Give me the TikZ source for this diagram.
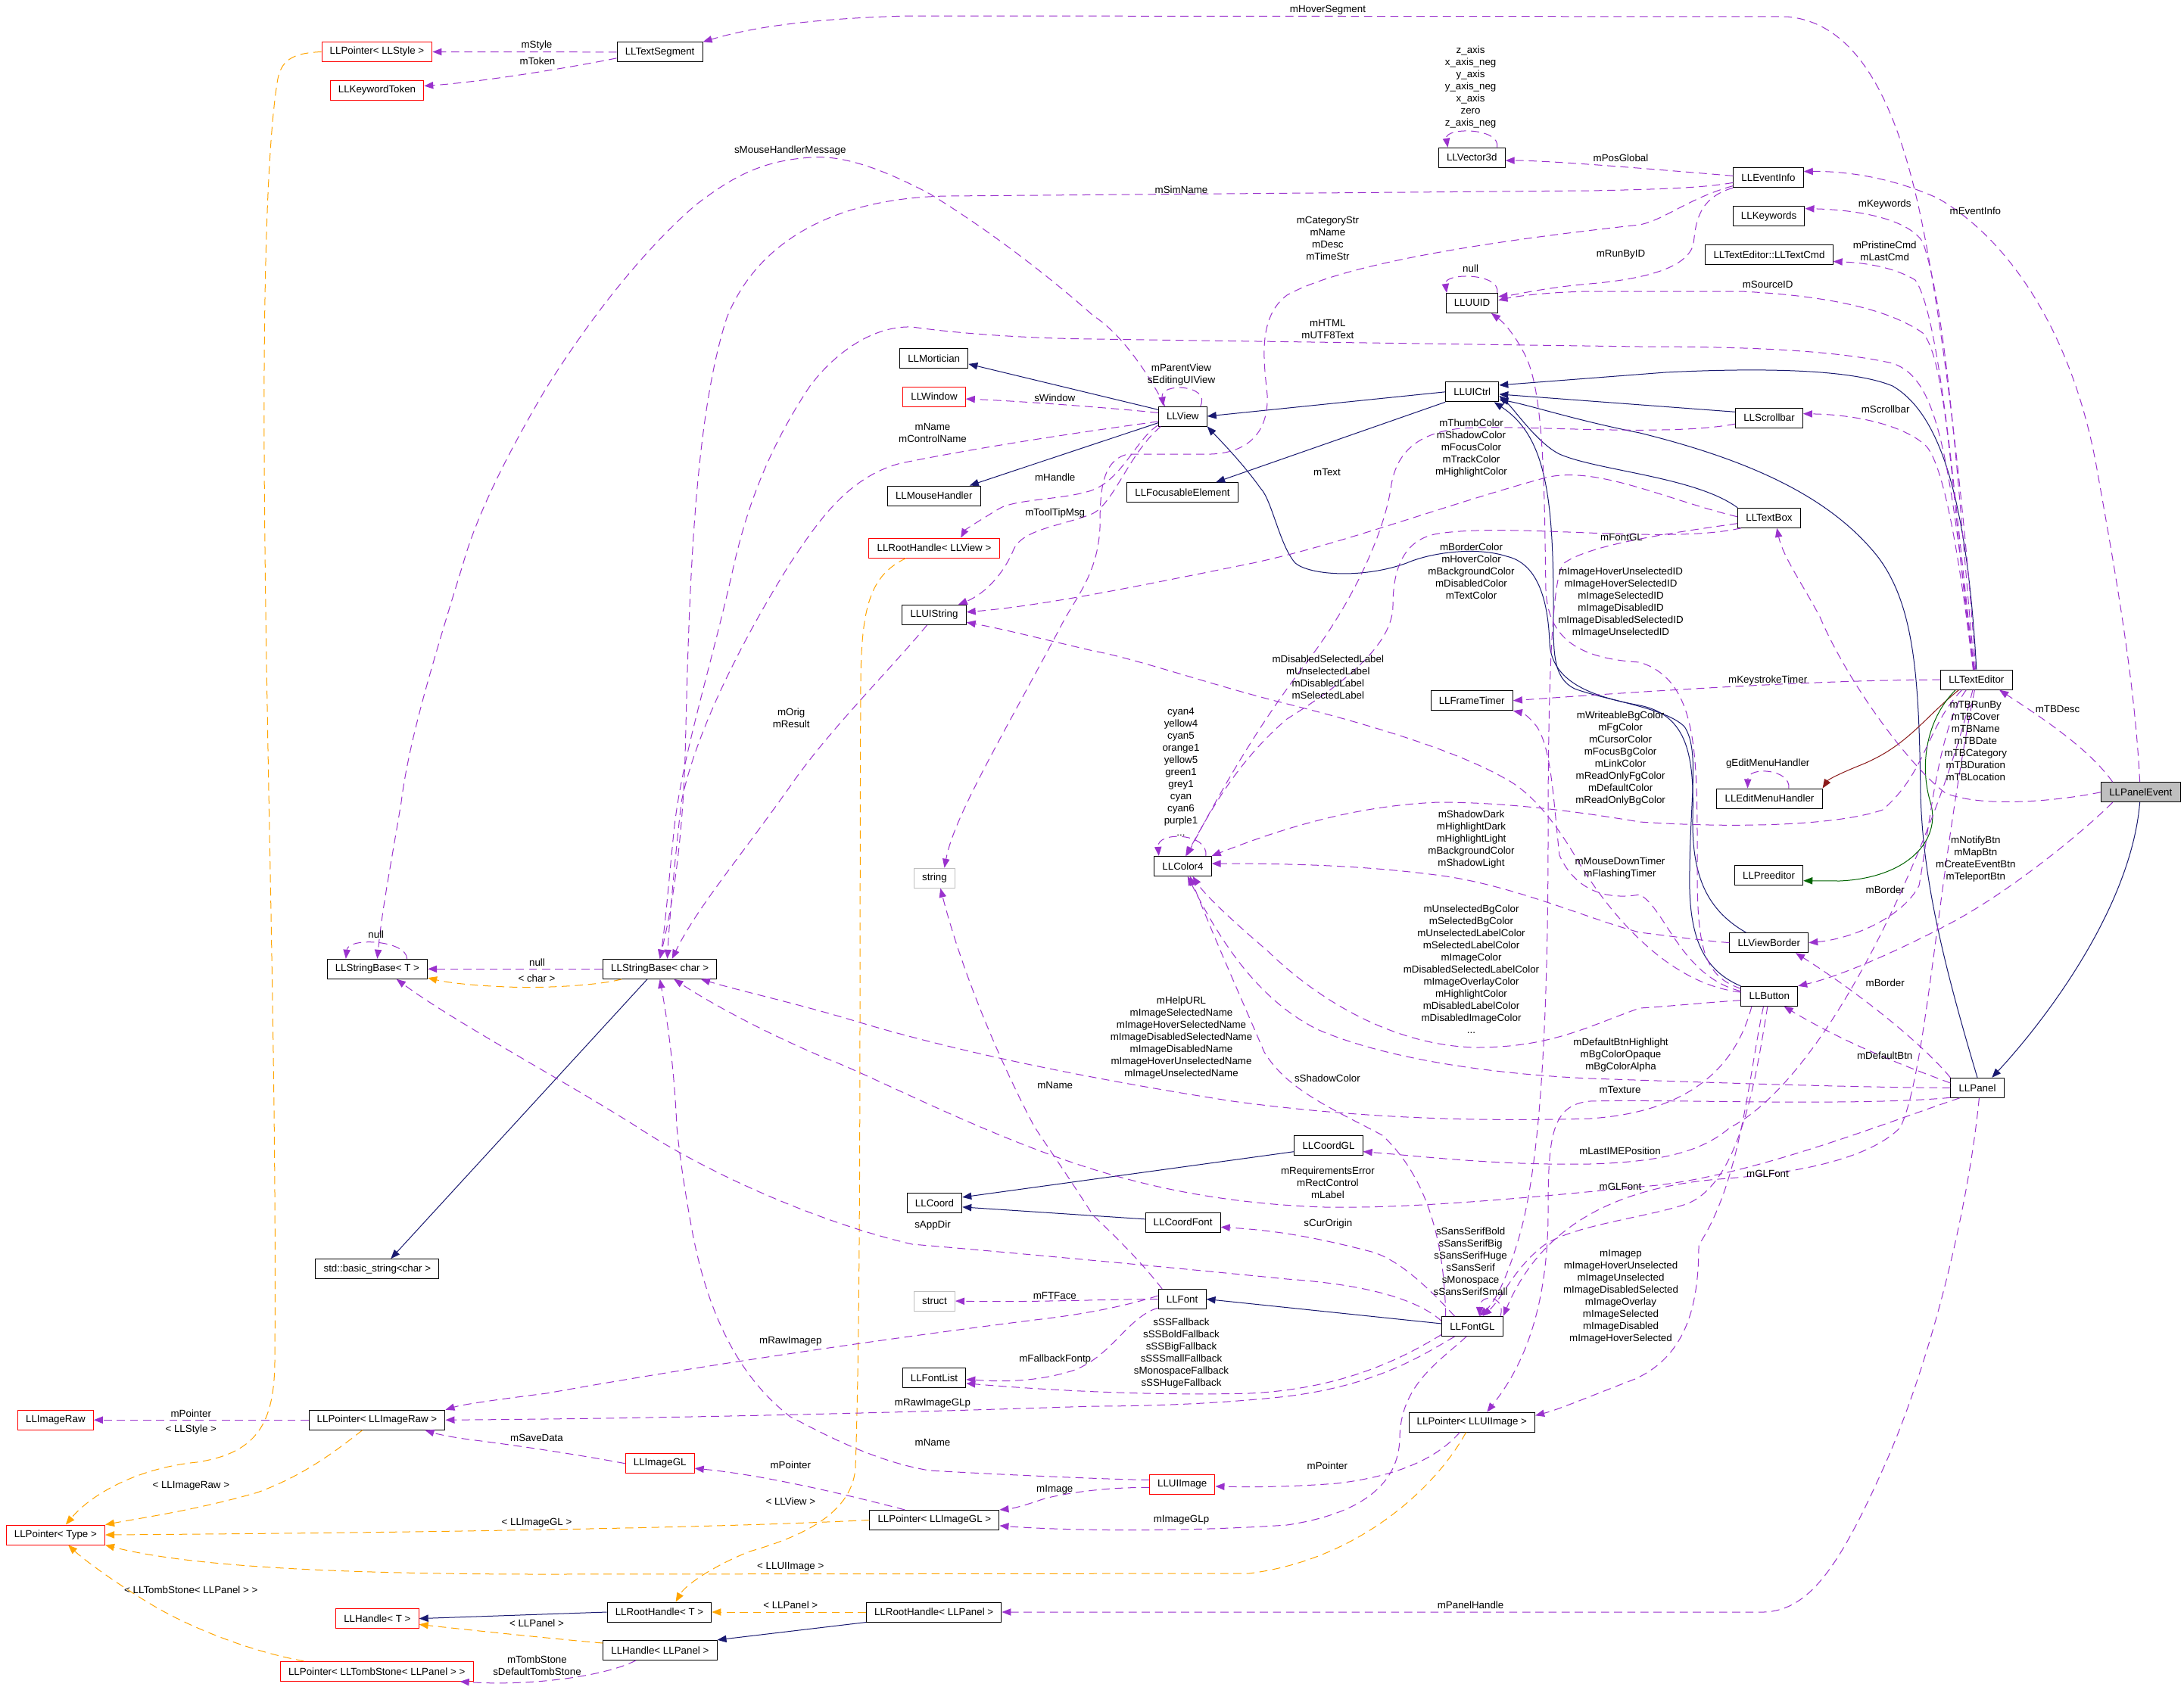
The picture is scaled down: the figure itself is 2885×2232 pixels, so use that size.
\documentclass[tikz,border=0pt]{standalone}
\usepackage{fontspec}
\setmainfont{Liberation Sans}
\usetikzlibrary{arrows.meta}
\definecolor{usecol}{RGB}{154,50,205}
\definecolor{tplcol}{RGB}{255,165,0}
\definecolor{inhcol}{RGB}{25,25,112}
\definecolor{protcol}{RGB}{139,26,26}
\definecolor{privcol}{RGB}{0,100,0}
\definecolor{undoccol}{RGB}{255,0,0}
\definecolor{extcol}{RGB}{191,191,191}
\newcommand\lbfont{\fontsize{10}{12}\selectfont}
\tikzset{
  cls/.style={rectangle,draw=black,line width=0.75pt,fill=white,minimum height=19.5pt,inner xsep=8pt,inner ysep=2pt,font=\lbfont},
  rcls/.style={cls,draw=undoccol},
  gcls/.style={cls,draw=extcol},
  hcls/.style={cls,fill=extcol},
  lb/.style={font=\lbfont,align=center,inner sep=0pt},
  tip/.style={-{Triangle[length=9pt,width=7pt]}},
  ue/.style={tip,draw=usecol,fill=none,line width=0.75pt,dash pattern=on 8pt off 5pt},
  te/.style={ue,draw=tplcol},
  ie/.style={tip,draw=inhcol,line width=0.75pt},
  pe/.style={ie,draw=protcol},
  ve/.style={ie,draw=privcol}
}

\begin{document}
\begin{tikzpicture}[x=0.75pt,y=-0.75pt]
  \fill[white] (0,0) rectangle (2885,2232);
  \useasboundingbox (0,0) rectangle (2885,2232);

  % classes
  \node[rcls] (ptrstyle) at (498,68.5) {LLPointer< LLStyle >};
  \node[rcls] (kwtoken) at (498,119) {LLKeywordToken};
  \node[cls] (textseg) at (871.6,68.8) {LLTextSegment};
  \node[cls] (vec3d) at (1944.3,208.2) {LLVector3d};
  \node[cls] (eventinfo) at (2336,234.8) {LLEventInfo};
  \node[cls] (keywords) at (2336.6,285.8) {LLKeywords};
  \node[cls] (textcmd) at (2337,336.6) {LLTextEditor::LLTextCmd};
  \node[cls] (uuid) at (1944.5,400.4) {LLUUID};
  \node[cls] (mortician) at (1233.7,473.7) {LLMortician};
  \node[rcls] (window) at (1234,524.2) {LLWindow};
  \node[cls] (view) at (1562.3,550) {LLView};
  \node[cls] (uictrl) at (1944.7,517.8) {LLUICtrl};
  \node[cls] (scrollbar) at (2337,552.2) {LLScrollbar};
  \node[cls] (mousehandler) at (1233.8,655) {LLMouseHandler};
  \node[cls] (focusable) at (1562,650.6) {LLFocusableElement};
  \node[cls] (textbox) at (2337,684.3) {LLTextBox};
  \node[rcls] (roothview) at (1234,724) {LLRootHandle< LLView >};
  \node[cls] (uistring) at (1234,812.5) {LLUIString};
  \node[cls] (texteditor) at (2610.8,898.2) {LLTextEditor};
  \node[cls] (frametimer) at (1944.2,925.7) {LLFrameTimer};
  \node[cls] (editmenu) at (2337.5,1055) {LLEditMenuHandler};
  \node[hcls] (panelevent) at (2827.8,1046.7) {LLPanelEvent};
  \node[cls] (preeditor) at (2336.6,1156.5) {LLPreeditor};
  \node[cls] (color4) at (1562.5,1144.4) {LLColor4};
  \node[gcls] (string) at (1234.5,1160.2) {string};
  \node[cls] (viewborder) at (2336.8,1245.6) {LLViewBorder};
  \node[cls] (strbaseT) at (498.4,1280.3) {LLStringBase< T >};
  \node[cls] (strbasechar) at (871.7,1280.3) {LLStringBase< char >};
  \node[cls] (button) at (2337.3,1316.3) {LLButton};
  \node[cls] (panel) at (2612,1437.3) {LLPanel};
  \node[cls] (coordgl) at (1755,1513.6) {LLCoordGL};
  \node[cls] (coord) at (1234.5,1589.7) {LLCoord};
  \node[cls] (coordfont) at (1562.6,1615.2) {LLCoordFont};
  \node[cls] (basicstr) at (498.4,1676.6) {std::basic\_string<char >};
  \node[cls] (font) at (1561.6,1716.5) {LLFont};
  \node[gcls] (struct) at (1234.5,1719) {struct};
  \node[cls] (fontgl) at (1944.9,1752.5) {LLFontGL};
  \node[cls] (fontlist) at (1234,1820.4) {LLFontList};
  \node[rcls] (imageraw) at (73.4,1876.2) {LLImageRaw};
  \node[cls] (ptrimageraw) at (498,1876.2) {LLPointer< LLImageRaw >};
  \node[cls] (ptruiimage) at (1944.3,1879.1) {LLPointer< LLUIImage >};
  \node[rcls] (imagegl) at (871.7,1933.7) {LLImageGL};
  \node[rcls] (uiimage) at (1561.7,1961.6) {LLUIImage};
  \node[cls] (ptrimagegl) at (1234.4,2008.4) {LLPointer< LLImageGL >};
  \node[rcls] (ptrtype) at (73.4,2028) {LLPointer< Type >};
  \node[cls] (roothT) at (871,2130) {LLRootHandle< T >};
  \node[cls] (roothpanel) at (1233.7,2130) {LLRootHandle< LLPanel >};
  \node[rcls] (handleT) at (498.4,2138.6) {LLHandle< T >};
  \node[cls] (handlepanel) at (871.9,2180.3) {LLHandle< LLPanel >};
  \node[rcls] (ptrtomb) at (497.7,2208.3) {LLPointer< LLTombStone< LLPanel > >};

  % inheritance
  \draw[ie] (view.165) -- (mortician.-9);
  \draw[ie] (view.195) -- (mousehandler.16);
  \draw[ie] (uictrl.west) -- (view.east);
  \draw[ie] (uictrl.south west) -- (focusable.17);
  \draw[ie] (scrollbar.170) -- (uictrl.-5);
  \draw[ie] (texteditor.north) .. controls (2598,650) and (2560,545) .. (2500,510) .. controls (2440,485) and (2300,487) .. (2200,492) -- (uictrl.14);
  \draw[ie] (textbox.north west) .. controls (2240,630) and (2110,622) .. (2060,600) .. controls (2030,585) and (2000,540) .. (uictrl.-8);
  \draw[ie] (panel.north) .. controls (2560,1250) and (2540,1150) .. (2537,1050) .. controls (2535,900) and (2530,800) .. (2480,735) .. controls (2420,660) and (2320,610) .. (2166,572) .. controls (2080,555) and (2020,535) .. (uictrl.-16);
  \draw[ie] (button.north west) .. controls (2245,1280) and (2230,1230) .. (2232,1150) .. controls (2233,1050) and (2245,990) .. (2225,960) .. controls (2200,935) and (2120,925) .. (2080,910) .. controls (2050,895) and (2052,860) .. (2052,800) .. controls (2052,650) and (2040,575) .. (uictrl.-25);
  \draw[ie] (viewborder.156) .. controls (2250,1200) and (2235,1150) .. (2236,1080) .. controls (2238,1000) and (2230,945) .. (2166,932) .. controls (2100,920) and (2050,900) .. (2047,850) .. controls (2045,790) and (2030,744) .. (1990,735) .. controls (1950,722) and (1890,730) .. (1858,744) .. controls (1800,765) and (1730,760) .. (1711,744) .. controls (1690,720) and (1680,660) .. (1665,645) .. controls (1640,610) and (1610,580) .. (view.south east);
  \draw[ie] (panelevent.-95) .. controls (2815,1200) and (2700,1350) .. (panel.35);
  \draw[ie] (fontgl.175) -- (font.east);
  \draw[ie] (coordgl.190) -- (coord.12);
  \draw[ie] (coordfont.175) -- (coord.-8);
  \draw[ie] (roothpanel.south west) -- (handlepanel.north east);
  \draw[ie] (roothT.west) -- (handleT.east);
  \draw[ie] (strbasechar.219) -- (basicstr.37);
  \draw[pe] (texteditor.210) .. controls (2540,950) and (2520,985) .. (2460,1010) .. controls (2430,1022) and (2415,1030) .. (editmenu.north east);
  \draw[ve] (texteditor.206) .. controls (2545,950) and (2535,1010) .. (2550,1060) .. controls (2565,1110) and (2520,1160) .. (2430,1164) -- (preeditor.-9);

  % template instances
  \draw[te] (ptrstyle.west) .. controls (385,70) and (370,80) .. (366,110) .. controls (352,200) and (348,400) .. (349,600) .. controls (351,1000) and (366,1400) .. (363,1800) .. controls (362,1880) and (340,1920) .. (260,1932) .. controls (180,1940) and (120,1975) .. (ptrtype.45);
  \draw[te] (ptrimageraw.215) .. controls (440,1920) and (400,1950) .. (340,1972) .. controls (260,1995) and (190,2005) .. (ptrtype.north east);
  \draw[te] (ptrimagegl.west) .. controls (1000,2016) and (700,2024) .. (ptrtype.east);
  \draw[te] (ptruiimage.-120) .. controls (1900,1960) and (1800,2060) .. (1650,2079) -- (722,2080) .. controls (450,2080) and (250,2070) .. (ptrtype.south east);
  \draw[te] (ptrtomb.172) .. controls (330,2182) and (250,2150) .. (200,2120) .. controls (150,2090) and (110,2060) .. (ptrtype.-39);
  \draw[te] (strbasechar.195) .. controls (790,1302) and (720,1306) .. (670,1304) .. controls (620,1302) and (590,1298) .. (strbaseT.-10);
  \draw[te] (roothview.200) .. controls (1150,760) and (1138,800) .. (1137,900) .. controls (1135,1300) and (1138,1700) .. (1130,1940) .. controls (1125,2000) and (1060,2030) .. (990,2050) .. controls (940,2070) and (905,2095) .. (roothT.32);
  \draw[te] (roothpanel.west) -- (roothT.east);
  \draw[te] (handlepanel.173) .. controls (760,2168) and (650,2157) .. (handleT.-8);

  % members
  \draw[ue] (textseg.west) -- (ptrstyle.east);
  \draw[ue] (textseg.188) .. controls (760,88) and (640,108) .. (kwtoken.5);
  \draw[ue] (texteditor.95) .. controls (2598,700) and (2570,450) .. (2540,300) .. controls (2510,150) and (2460,30) .. (2360,22) -- (1200,21) .. controls (1050,25) and (980,40) .. (textseg.north east);
  \draw[ue] (vec3d.22) .. controls (1982,168) and (1908,168) .. (vec3d.157);
  \draw[ue] (eventinfo.177) .. controls (2200,225) and (2050,212) .. (vec3d.-5);
  \draw[ue] (panelevent.95) .. controls (2820,900) and (2795,760) .. (2770,620) .. controls (2740,450) and (2660,320) .. (2560,262) .. controls (2500,235) and (2440,226) .. (eventinfo.10);
  \draw[ue] (texteditor.100) .. controls (2590,700) and (2575,420) .. (2540,320) .. controls (2520,288) and (2450,277) .. (keywords.12);
  \draw[ue] (texteditor.102) .. controls (2585,700) and (2565,420) .. (2530,370) .. controls (2500,352) and (2460,347) .. (textcmd.-6);
  \draw[ue] (eventinfo.188) .. controls (2250,248) and (2200,250) .. (2100,252) -- (1250,259) .. controls (1100,262) and (1000,320) .. (960,420) .. controls (915,560) and (910,800) .. (905,1000) .. controls (900,1150) and (880,1230) .. (strbasechar.north);
  \draw[ue] (eventinfo.193) .. controls (2230,262) and (2200,290) .. (2166,297) .. controls (2000,315) and (1780,345) .. (1700,390) .. controls (1660,420) and (1670,480) .. (1674,522) .. controls (1676,570) and (1650,598) .. (1600,600) -- (1490,600) .. controls (1455,608) and (1453,650) .. (1453,697) .. controls (1450,760) and (1420,790) .. (1400,830) .. controls (1320,980) and (1260,1080) .. (string.46);
  \draw[ue] (uuid.22) .. controls (1982,360) and (1907,360) .. (uuid.158);
  \draw[ue] (eventinfo.196) .. controls (2240,262) and (2240,300) .. (2237,322) .. controls (2230,352) and (2180,368) .. (2100,375) .. controls (2040,380) and (2000,390) .. (uuid.14);
  \draw[ue] (texteditor.104) .. controls (2580,700) and (2575,480) .. (2540,440) .. controls (2490,405) and (2400,390) .. (2300,385) -- (2100,385) .. controls (2040,386) and (2000,392) .. (uuid.6);
  \draw[ue] (view.150) .. controls (1515,490) and (1480,440) .. (1444,417) .. controls (1380,360) and (1300,300) .. (1228,256) .. controls (1160,220) and (1110,205) .. (1072,208) .. controls (1000,212) and (960,240) .. (920,270) .. controls (850,330) and (780,420) .. (722,512) .. controls (670,600) and (630,680) .. (612,744) .. controls (570,880) and (540,980) .. (530,1060) .. controls (515,1150) and (505,1200) .. (strbaseT.north);
  \draw[ue] (texteditor.106) .. controls (2575,600) and (2560,500) .. (2500,480) .. controls (2420,462) and (2300,458) .. (2166,458) -- (1444,448) .. controls (1350,447) and (1260,440) .. (1205,432) .. controls (1150,430) and (1100,470) .. (1070,510) .. controls (1010,600) and (985,680) .. (970,744) .. controls (940,880) and (900,1000) .. (890,1100) .. controls (882,1180) and (878,1230) .. (strbasechar.north);
  \draw[ue] (view.30) .. controls (1600,508) and (1532,505) .. (view.152);
  \draw[ue] (view.172) .. controls (1480,540) and (1350,530) .. (window.-4);
  \draw[ue] (view.192) .. controls (1420,572) and (1300,590) .. (1190,612) .. controls (1120,630) and (1080,690) .. (1044,744) .. controls (990,830) and (920,960) .. (900,1060) .. controls (890,1150) and (884,1220) .. (strbasechar.54);
  \draw[ue] (view.200) .. controls (1500,580) and (1480,640) .. (1435,650) .. controls (1400,660) and (1340,660) .. (1320,672) .. controls (1290,690) and (1275,700) .. (roothview.21);
  \draw[ue] (view.205) .. controls (1490,600) and (1470,670) .. (1440,680) .. controls (1400,695) and (1350,700) .. (1339,726) .. controls (1325,760) and (1300,785) .. (uistring.23);
  \draw[ue] (scrollbar.-170) .. controls (2200,578) and (2000,560) .. (1930,566) .. controls (1870,572) and (1845,600) .. (1838,640) .. controls (1830,700) and (1790,790) .. (1730,870) .. controls (1660,960) and (1610,1050) .. (color4.70);
  \draw[ue] (textbox.178) .. controls (2200,660) and (2110,615) .. (2042,631) .. controls (1900,670) and (1770,720) .. (1650,745) .. controls (1500,775) and (1380,800) .. (uistring.5);
  \draw[ue] (textbox.190) .. controls (2200,705) and (2100,720) .. (2066,744) .. controls (2050,760) and (2045,900) .. (2045,1100) .. controls (2045,1400) and (2030,1560) .. (2005,1640) .. controls (1990,1690) and (1975,1720) .. (fontgl.55);
  \draw[ue] (textbox.200) .. controls (2200,720) and (2000,690) .. (1900,705) .. controls (1855,712) and (1840,750) .. (1840,800) .. controls (1840,850) and (1780,900) .. (1700,950) .. controls (1630,1010) and (1595,1080) .. (color4.75);
  \draw[ue] (button.172) .. controls (2200,1300) and (2120,1200) .. (2080,1130) .. controls (2050,1080) and (2020,1045) .. (1987,1028) .. controls (1920,990) and (1800,955) .. (1700,930) .. controls (1600,905) and (1500,870) .. (1444,860) .. controls (1380,845) and (1320,830) .. (uistring.-13);
  \draw[ue] (color4.24) .. controls (1597,1100) and (1528,1098) .. (color4.157);
  \draw[ue] (texteditor.215) .. controls (2545,960) and (2545,1020) .. (2487,1070) .. controls (2430,1090) and (2300,1095) .. (2166,1086) .. controls (2100,1075) and (2000,1060) .. (1900,1060) .. controls (1780,1065) and (1680,1100) .. (color4.north east);
  \draw[ue] (viewborder.west) .. controls (2250,1243) and (2200,1236) .. (2166,1232) .. controls (2100,1215) and (2000,1170) .. (1904,1157) .. controls (1800,1143) and (1700,1141) .. (color4.5);
  \draw[ue] (button.188) .. controls (2250,1325) and (2200,1330) .. (2166,1332) .. controls (2100,1355) and (2050,1384) .. (1950,1384) .. controls (1850,1382) and (1750,1330) .. (1674,1256) .. controls (1620,1210) and (1590,1180) .. (color4.-46);
  \draw[ue] (button.-150) .. controls (2290,1420) and (2220,1470) .. (2100,1478) .. controls (1950,1482) and (1800,1478) .. (1628,1455) .. controls (1500,1435) and (1300,1400) .. (1136,1351) .. controls (1050,1325) and (980,1310) .. (strbasechar.-14);
  \draw[ue] (fontgl.159) .. controls (1908,1650) and (1890,1560) .. (1826,1500) .. controls (1760,1465) and (1700,1440) .. (1670,1390) .. controls (1640,1320) and (1600,1230) .. (color4.-55);
  \draw[ue] (button.165) .. controls (2250,1290) and (2242,1250) .. (2242,1150) .. controls (2242,1000) and (2245,900) .. (2166,875) .. controls (2080,870) and (2045,840) .. (2042,780) .. controls (2040,650) and (2040,520) .. (2015,470) .. controls (2000,440) and (1985,425) .. (uuid.-28);
  \draw[ue] (texteditor.west) .. controls (2400,898) and (2150,915) .. (frametimer.east);
  \draw[ue] (button.170) .. controls (2220,1290) and (2200,1200) .. (2166,1182) .. controls (2120,1190) and (2080,1175) .. (2060,1130) .. controls (2052,1060) and (2050,990) .. (2030,960) .. controls (2020,947) and (2012,942) .. (frametimer.south east);
  \draw[ue] (panel.west) .. controls (2450,1437) and (2250,1430) .. (2100,1425) .. controls (1950,1418) and (1820,1395) .. (1740,1360) .. controls (1660,1320) and (1610,1240) .. (color4.-65);
  \draw[ue] (panel.200) .. controls (2450,1462) and (2200,1452) .. (2100,1455) .. controls (2050,1460) and (2045,1500) .. (2045,1600) .. controls (2045,1750) and (2000,1820) .. (ptruiimage.34);
  \draw[ue] (panel.170) .. controls (2520,1410) and (2440,1380) .. (button.-35);
  \draw[ue] (texteditor.225) .. controls (2560,960) and (2548,1100) .. (2535,1170) .. controls (2515,1210) and (2450,1240) .. (viewborder.east);
  \draw[ue] (panel.north west) .. controls (2540,1380) and (2460,1315) .. (viewborder.-21);
  \draw[ue] (panelevent.-160) .. controls (2740,1110) and (2650,1180) .. (2580,1218) .. controls (2500,1260) and (2430,1290) .. (button.north east);
  \draw[ue] (panelevent.west) .. controls (2720,1058) and (2620,1068) .. (2570,1048) .. controls (2520,1010) and (2440,900) .. (2404,815) .. controls (2380,770) and (2355,735) .. (textbox.-53);
  \draw[ue] (panelevent.160) .. controls (2760,990) and (2700,950) .. (texteditor.-24);
  \draw[ue] (texteditor.108) .. controls (2590,750) and (2570,620) .. (2545,590) .. controls (2520,565) and (2460,548) .. (scrollbar.7);
  \draw[ue] (texteditor.-110) .. controls (2560,1100) and (2420,1420) .. (2285,1490) .. controls (2250,1520) and (2200,1535) .. (2100,1538) .. controls (1980,1540) and (1880,1528) .. (coordgl.-10);
  \draw[ue] (texteditor.-100) .. controls (2560,1150) and (2545,1420) .. (2510,1490) .. controls (2470,1530) and (2380,1550) .. (2270,1558) .. controls (2150,1568) and (2040,1610) .. (fontgl.north east);
  \draw[ue] (button.-100) .. controls (2320,1420) and (2300,1560) .. (2230,1590) .. controls (2180,1608) and (2080,1618) .. (2040,1645) .. controls (2000,1675) and (1985,1715) .. (fontgl.45);
  \draw[ue] (panel.-150) .. controls (2500,1480) and (2300,1560) .. (2166,1568) .. controls (2000,1585) and (1850,1597) .. (1750,1595) .. controls (1600,1590) and (1500,1562) .. (1444,1545) .. controls (1300,1500) and (1150,1420) .. (1090,1398) .. controls (1000,1360) and (930,1320) .. (strbasechar.-36);
  \draw[ue] (panel.-80) .. controls (2600,1600) and (2550,1800) .. (2490,1935) .. controls (2430,2070) and (2390,2128) .. (2330,2130) -- (roothpanel.east);
  \draw[ue] (handlepanel.203) .. controls (800,2215) and (700,2228) .. (ptrtomb.-7);
  \draw[ue] (ptrimageraw.west) -- (imageraw.east);
  \draw[ue] (imagegl.west) .. controls (780,1925) and (700,1912) .. (620,1902) .. controls (590,1898) and (575,1894) .. (ptrimageraw.-12);
  \draw[ue] (font.172) .. controls (1480,1728) and (1420,1738) .. (1367,1744) .. controls (1200,1765) and (950,1800) .. (722,1841) .. controls (650,1850) and (610,1856) .. (ptrimageraw.north east);
  \draw[ue] (fontgl.-150) .. controls (1880,1790) and (1820,1830) .. (1700,1845) .. controls (1600,1856) and (1500,1858) .. (1444,1858) .. controls (1200,1866) and (900,1874) .. (ptrimageraw.east);
  \draw[ue] (fontgl.-165) .. controls (1860,1790) and (1780,1835) .. (1650,1841) .. controls (1500,1845) and (1350,1834) .. (fontlist.-10);
  \draw[ue] (font.-160) .. controls (1490,1740) and (1470,1790) .. (1420,1810) .. controls (1360,1830) and (1300,1824) .. (fontlist.-3);
  \draw[ue] (font.180) .. controls (1450,1717) and (1350,1721) .. (struct.east);
  \draw[ue] (font.153) .. controls (1510,1670) and (1470,1630) .. (1444,1606) .. controls (1405,1545) and (1380,1510) .. (1366,1488) .. controls (1330,1420) and (1275,1300) .. (string.-60);
  \draw[ue] (fontgl.170) .. controls (1870,1715) and (1800,1697) .. (1700,1690) .. controls (1500,1670) and (1300,1652) .. (1205,1644) .. controls (1100,1620) and (950,1560) .. (840,1488) .. controls (740,1425) and (600,1350) .. (strbaseT.-28);
  \draw[ue] (fontgl.150) .. controls (1890,1705) and (1850,1665) .. (1812,1654) .. controls (1720,1630) and (1670,1625) .. (coordfont.-7);
  \draw[ue] (fontgl.20) .. controls (1990,1712) and (1955,1708) .. (fontgl.55);
  \draw[ue] (ptrimagegl.161) .. controls (1100,1970) and (1000,1948) .. (imagegl.-8);
  \draw[ue] (uiimage.185) .. controls (1450,1965) and (1400,1975) .. (1380,1980) .. controls (1360,1987) and (1340,1993) .. (ptrimagegl.north east);
  \draw[ue] (fontgl.-120) .. controls (1900,1800) and (1850,1830) .. (1849,1900) .. controls (1848,1960) and (1800,2000) .. (1700,2015) .. controls (1550,2025) and (1400,2022) .. (ptrimagegl.-5);
  \draw[ue] (ptruiimage.-140) .. controls (1900,1925) and (1850,1950) .. (1766,1960) .. controls (1700,1965) and (1650,1965) .. (uiimage.-3);
  \draw[ue] (uiimage.172) .. controls (1480,1955) and (1350,1950) .. (1228,1943) .. controls (1150,1930) and (1080,1890) .. (1044,1872) .. controls (990,1830) and (940,1760) .. (915,1630) .. controls (900,1550) and (895,1500) .. (894,1488) .. controls (890,1400) and (880,1340) .. (strbasechar.south);
  \draw[ue] (uistring.-125) .. controls (1180,880) and (1100,960) .. (1050,1030) .. controls (980,1130) and (920,1200) .. (strbasechar.40);
  \draw[ue] (strbasechar.west) -- (strbaseT.east);
  \draw[ue] (strbaseT.19) .. controls (537,1242) and (460,1238) .. (strbaseT.162);
  \draw[ue] (editmenu.28) .. controls (2366,1016) and (2309,1012) .. (editmenu.155);
  \draw[ue] (button.-120) .. controls (2310,1420) and (2300,1560) .. (2244,1645) .. controls (2244,1720) and (2230,1790) .. (2160,1822) .. controls (2100,1845) and (2060,1862) .. (ptruiimage.6);

  % edge labels
  \node[lb] (lStyle) at (709,60) {mStyle};
  \node[lb] (lToken) at (710,80.6) {mToken};
  \node[lb] (lHover) at (1754,12.8) {mHoverSegment};
  \node[lb] (lAxis) at (1942.6,114.8) {z\_axis\\x\_axis\_neg\\y\_axis\\y\_axis\_neg\\x\_axis\\zero\\z\_axis\_neg};
  \node[lb] (lPos) at (2141,208.7) {mPosGlobal};
  \node[lb] (lEvInfo) at (2609.4,278.5) {mEventInfo};
  \node[lb] (lKeyw) at (2489.7,270.4) {mKeywords};
  \node[lb] (lCmd) at (2489.7,331.6) {mPristineCmd\\mLastCmd};
  \node[lb] (lSim) at (1560.5,250.5) {mSimName};
  \node[lb] (lCat) at (1753.9,314.5) {mCategoryStr\\mName\\mDesc\\mTimeStr};
  \node[lb] (lNullU) at (1942.6,354.8) {null};
  \node[lb] (lRun) at (2141,335.9) {mRunByID};
  \node[lb] (lSrc) at (2335.2,375.7) {mSourceID};
  \node[lb] (lMouse) at (1043.8,199.2) {sMouseHandlerMessage};
  \node[lb] (lHtml) at (1753.9,435.3) {mHTML\\mUTF8Text};
  \node[lb] (lParent) at (1560.5,495.2) {mParentView\\sEditingUIView};
  \node[lb] (lWin) at (1393.3,526) {sWindow};
  \node[lb] (lCtlName) at (1232,572.3) {mName\\mControlName};
  \node[lb] (lHandle) at (1393.7,631) {mHandle};
  \node[lb] (lTip) at (1393.7,678.4) {mToolTipMsg};
  \node[lb] (lThumb) at (1943.5,591.8) {mThumbColor\\mShadowColor\\mFocusColor\\mTrackColor\\mHighlightColor};
  \node[lb] (lText) at (1753,623.8) {mText};
  \node[lb] (lFontGL) at (2142,710) {mFontGL};
  \node[lb] (lBorderC) at (1943.5,754.6) {mBorderColor\\mHoverColor\\mBackgroundColor\\mDisabledColor\\mTextColor};
  \node[lb] (lImgID) at (2141,795.7) {mImageHoverUnselectedID\\mImageHoverSelectedID\\mImageSelectedID\\mImageDisabledID\\mImageDisabledSelectedID\\mImageUnselectedID};
  \node[lb] (lLabel) at (1754.3,894.6) {mDisabledSelectedLabel\\mUnselectedLabel\\mDisabledLabel\\mSelectedLabel};
  \node[lb] (lColors) at (1560,1019.4) {cyan4\\yellow4\\cyan5\\orange1\\yellow5\\green1\\grey1\\cyan\\cyan6\\purple1\\...};
  \node[lb] (lWrite) at (2140.6,1002.5) {mWriteableBgColor\\mFgColor\\mCursorColor\\mFocusBgColor\\mLinkColor\\mReadOnlyFgColor\\mDefaultColor\\mReadOnlyBgColor};
  \node[lb] (lShadow) at (1943.5,1108.6) {mShadowDark\\mHighlightDark\\mHighlightLight\\mBackgroundColor\\mShadowLight};
  \node[lb] (lBgCol) at (1943.5,1280.3) {mUnselectedBgColor\\mSelectedBgColor\\mUnselectedLabelColor\\mSelectedLabelColor\\mImageColor\\mDisabledSelectedLabelColor\\mImageOverlayColor\\mHighlightColor\\mDisabledLabelColor\\mDisabledImageColor\\...};
  \node[lb] (lHelp) at (1560.5,1371.1) {mHelpURL\\mImageSelectedName\\mImageHoverSelectedName\\mImageDisabledSelectedName\\mImageDisabledName\\mImageHoverUnselectedName\\mImageUnselectedName};
  \node[lb] (lShadowC) at (1753.4,1424.7) {sShadowColor};
  \node[lb] (lMouseT) at (2140,1146.8) {mMouseDownTimer\\mFlashingTimer};
  \node[lb] (lDefBtnH) at (2141,1394.5) {mDefaultBtnHighlight\\mBgColorOpaque\\mBgColorAlpha};
  \node[lb] (lTexture) at (2140,1440.4) {mTexture};
  \node[lb] (lKey) at (2335.2,898.6) {mKeystrokeTimer};
  \node[lb] (lTBRun) at (2609.8,978.8) {mTBRunBy\\mTBCover\\mTBName\\mTBDate\\mTBCategory\\mTBDuration\\mTBLocation};
  \node[lb] (lTBDesc) at (2718,936.6) {mTBDesc};
  \node[lb] (lEditH) at (2335.2,1008.7) {gEditMenuHandler};
  \node[lb] (lNotify) at (2609.8,1134.8) {mNotifyBtn\\mMapBtn\\mCreateEventBtn\\mTeleportBtn};
  \node[lb] (lBorder) at (2490.2,1176.2) {mBorder};
  \node[lb] (lBorderB) at (2490.2,1298.6) {mBorder};
  \node[lb] (lDefBtn) at (2489.7,1394.4) {mDefaultBtn};
  \node[lb] (lScroll) at (2490.6,540.8) {mScrollbar};
  \node[lb] (lOrig) at (1045.2,948.7) {mOrig\\mResult};
  \node[lb] (lNullC) at (709.5,1271.5) {null};
  \node[lb] (lChar) at (709,1293) {< char >};
  \node[lb] (lNullT) at (496.8,1234.5) {null};
  \node[lb] (lNameS) at (1393.7,1434.2) {mName};
  \node[lb] (lIME) at (2140,1520.7) {mLastIMEPosition};
  \node[lb] (lReq) at (1753.9,1562.6) {mRequirementsError\\mRectControl\\mLabel};
  \node[lb] (lGLF) at (2140.5,1567.7) {mGLFont};
  \node[lb] (lGLF2) at (2335,1550.6) {mGLFont};
  \node[lb] (lCur) at (1754.3,1616.6) {sCurOrigin};
  \node[lb] (lSans) at (1942.6,1666.6) {sSansSerifBold\\sSansSerifBig\\sSansSerifHuge\\sSansSerif\\sMonospace\\sSansSerifSmall};
  \node[lb] (lFall) at (1560.5,1788.5) {sSSFallback\\sSSBoldFallback\\sSSBigFallback\\sSSSmallFallback\\sMonospaceFallback\\sSSHugeFallback};
  \node[lb] (lImgp) at (2141,1713.1) {mImagep\\mImageHoverUnselected\\mImageUnselected\\mImageDisabledSelected\\mImageOverlay\\mImageSelected\\mImageDisabled\\mImageHoverSelected};
  \node[lb] (lAppDir) at (1232,1618.9) {sAppDir};
  \node[lb] (lFTFace) at (1393.3,1711.9) {mFTFace};
  \node[lb] (lRawImg) at (1044.3,1772.6) {mRawImagep};
  \node[lb] (lFallFp) at (1393.7,1795.9) {mFallbackFontp};
  \node[lb] (lRawGL) at (1232,1854.7) {mRawImageGLp};
  \node[lb] (lNameUI) at (1232,1906.4) {mName};
  \node[lb] (lPtrGL) at (1044.3,1935.3) {mPointer};
  \node[lb] (lViewT) at (1044.3,1983.7) {< LLView >};
  \node[lb] (lImage) at (1393.3,1968.5) {mImage};
  \node[lb] (lPtrUI) at (1753.4,1936.3) {mPointer};
  \node[lb] (lImgGLp) at (1560.5,2007.9) {mImageGLp};
  \node[lb] (lUIImgT) at (1044.3,2070.5) {< LLUIImage >};
  \node[lb] (lPanelT) at (1044.3,2120.4) {< LLPanel >};
  \node[lb] (lPanelH) at (1942.6,2120.4) {mPanelHandle};
  \node[lb] (lPtrRaw) at (252.3,1867.5) {mPointer};
  \node[lb] (lStyleT) at (252.3,1888.9) {< LLStyle >};
  \node[lb] (lRawT) at (252.3,1962.9) {< LLImageRaw >};
  \node[lb] (lGLT) at (709,2012.2) {< LLImageGL >};
  \node[lb] (lTombT) at (252.3,2100.4) {< LLTombStone< LLPanel > >};
  \node[lb] (lPanelT2) at (709,2144.5) {< LLPanel >};
  \node[lb] (lTomb) at (709.5,2200.5) {mTombStone\\sDefaultTombStone};
  \node[lb] (lSave) at (709,1899.8) {mSaveData};
\end{tikzpicture}
\end{document}
